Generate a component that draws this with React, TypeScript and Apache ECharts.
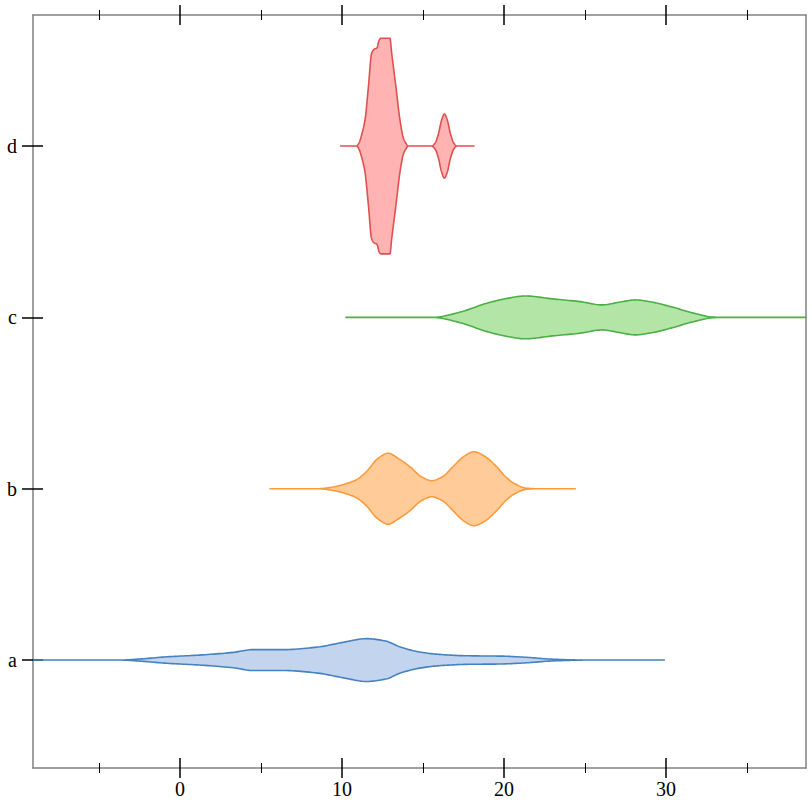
import React, { useEffect, useRef } from 'react';
import * as echarts from 'echarts';

// ---- Data ----
const categories = ['a', 'b', 'c', 'd'];
const majorTicks = [0, 10, 20, 30];
const minorTicks = [-5, 5, 15, 25, 35];
const categoryTicks = [0, 1, 2, 3];

const X_MIN = -9.07;
const X_MAX = 38.64;
const Y_MIN = -0.63;
const Y_MAX = 3.765;

// [value, half-width of the violin in category units]
const violinA: [number, number][] = [
  [-9.07, 0], [-3.7, 0], [-2.5, 0.006], [-0.8, 0.019], [1.2, 0.029], [3.3, 0.045],
  [4.5, 0.061], [6.4, 0.061], [8.5, 0.076], [10.1, 0.104], [11.5, 0.125], [12.7, 0.111],
  [13.6, 0.076], [14.8, 0.047], [16.0, 0.033], [17.7, 0.025], [19.8, 0.023], [21.4, 0.016],
  [22.8, 0.006], [24.3, 0.001], [25.0, 0], [29.9, 0],
];
const violinB: [number, number][] = [
  [5.56, 0], [8.5, 0], [9.45, 0.01], [10.5, 0.037], [10.9, 0.053], [11.5, 0.099],
  [12.2, 0.175], [12.85, 0.207], [13.5, 0.175], [14.2, 0.128], [14.9, 0.07], [15.55, 0.047],
  [16.2, 0.07], [16.85, 0.128], [17.5, 0.187], [18.15, 0.216], [18.85, 0.187], [19.55, 0.128],
  [20.1, 0.07], [20.6, 0.033], [21.4, 0.003], [22.0, 0], [24.4, 0],
];
const violinC: [number, number][] = [
  [10.25, 0], [15.6, 0], [17.3, 0.031], [18.95, 0.083], [20.2, 0.111], [21.3, 0.125],
  [23.0, 0.108], [24.7, 0.092], [26.05, 0.073], [27.2, 0.09], [28.1, 0.102], [29.2, 0.088],
  [30.4, 0.06], [31.7, 0.025], [32.9, 0.002], [33.5, 0], [38.64, 0],
];
const violinD: [number, number][] = [
  [9.92, 0], [10.9, 0], [11.05, 0.018], [11.21, 0.064], [11.42, 0.152], [11.63, 0.344],
  [11.83, 0.541], [12.0, 0.566], [12.15, 0.572], [12.3, 0.619], [12.39, 0.629], [12.96, 0.629],
  [13.07, 0.541], [13.33, 0.346], [13.58, 0.152], [13.79, 0.047], [13.95, 0.016], [14.09, 0],
  [15.53, 0], [15.75, 0.018], [15.95, 0.07], [16.15, 0.152], [16.32, 0.187], [16.5, 0.152],
  [16.7, 0.07], [16.9, 0.018], [17.08, 0], [18.15, 0],
];

const violins = [violinA, violinB, violinC, violinD];
const strokeColors = ['#4682bf', '#fd9a3c', '#4caf46', '#e05050'];
const fillColors = ['#c3d4ee', '#ffcc99', '#b3e6a6', '#ffb3b3'];

const FONT = 'Liberation Serif';

// Monotone cubic (Fritsch–Carlson) rendering of the outline between the read points
function monotoneCurve(rows: [number, number][], steps: number): [number, number][] {
  const n = rows.length;
  const xs = rows.map((r) => r[0]);
  const ys = rows.map((r) => r[1]);
  const h: number[] = [];
  const d: number[] = [];
  for (let i = 0; i < n - 1; i++) {
    h.push(xs[i + 1] - xs[i]);
    d.push((ys[i + 1] - ys[i]) / (xs[i + 1] - xs[i]));
  }
  const m: number[] = new Array(n).fill(0);
  for (let i = 1; i < n - 1; i++) {
    if (d[i - 1] * d[i] > 0) {
      const w1 = 2 * h[i] + h[i - 1];
      const w2 = h[i] + 2 * h[i - 1];
      m[i] = (w1 + w2) / (w1 / d[i - 1] + w2 / d[i]);
    } else {
      m[i] = 0;
    }
  }
  m[0] = 0;
  m[n - 1] = 0;
  const out: [number, number][] = [];
  for (let i = 0; i < n - 1; i++) {
    const x0 = xs[i];
    const hh = h[i];
    for (let s = 0; s < steps; s++) {
      const t = s / steps;
      const t2 = t * t;
      const t3 = t2 * t;
      const h00 = 2 * t3 - 3 * t2 + 1;
      const h10 = t3 - 2 * t2 + t;
      const h01 = -2 * t3 + 3 * t2;
      const h11 = t3 - t2;
      const y = h00 * ys[i] + h10 * hh * m[i] + h01 * ys[i + 1] + h11 * hh * m[i + 1];
      out.push([x0 + t * hh, Math.max(0, y)]);
    }
  }
  out.push([xs[n - 1], ys[n - 1]]);
  return out;
}

export default function App() {
  const ref = useRef<HTMLDivElement>(null);

  useEffect(() => {
    const chart = echarts.init(ref.current as HTMLDivElement, null, { renderer: 'svg' });

    const frameLine = { show: true, onZero: false, lineStyle: { color: '#808080', width: 1.5 } };
    const noLine = { show: false, onZero: false };

    const xAx = (
      position: string,
      ticks: number[],
      len: number,
      inside: boolean,
      width: number,
      line: boolean,
      labels: boolean
    ) => ({
      type: 'value',
      position,
      min: X_MIN,
      max: X_MAX,
      z: 0,
      axisLine: line ? frameLine : noLine,
      axisTick: { show: true, customValues: ticks, length: len, inside, lineStyle: { color: '#000', width } },
      axisLabel: labels
        ? { show: true, customValues: ticks, fontFamily: FONT, fontSize: 20, color: '#000', margin: 11 }
        : { show: false },
      splitLine: { show: false },
    });

    const xAxis = [
      xAx('bottom', majorTicks, 10, false, 1.5, true, true),
      xAx('bottom', majorTicks, 10, true, 1.5, false, false),
      xAx('bottom', minorTicks, 5, false, 1, false, false),
      xAx('bottom', minorTicks, 5, true, 1, false, false),
      xAx('top', majorTicks, 10, false, 1.5, true, false),
      xAx('top', majorTicks, 10, true, 1.5, false, false),
      xAx('top', minorTicks, 5, false, 1, false, false),
      xAx('top', minorTicks, 5, true, 1, false, false),
    ];

    const yAxis = [
      {
        type: 'value',
        position: 'left',
        min: Y_MIN,
        max: Y_MAX,
        z: 0,
        axisLine: frameLine,
        axisTick: { show: true, customValues: categoryTicks, length: 11, inside: false, lineStyle: { color: '#000', width: 1.5 } },
        axisLabel: {
          show: true,
          customValues: categoryTicks,
          formatter: (v: number) => categories[Math.round(v)] ?? '',
          fontFamily: FONT,
          fontSize: 20,
          color: '#000',
          margin: 16,
        },
        splitLine: { show: false },
      },
      {
        type: 'value',
        position: 'left',
        min: Y_MIN,
        max: Y_MAX,
        z: 0,
        axisLine: noLine,
        axisTick: { show: true, customValues: categoryTicks, length: 10, inside: true, lineStyle: { color: '#000', width: 1.5 } },
        axisLabel: { show: false },
        splitLine: { show: false },
      },
      {
        type: 'value',
        position: 'right',
        min: Y_MIN,
        max: Y_MAX,
        z: 0,
        axisLine: frameLine,
        axisTick: { show: false },
        axisLabel: { show: false },
        splitLine: { show: false },
      },
    ];

    const series = violins.map((rows, ci) => ({
      type: 'custom',
      xAxisIndex: 0,
      yAxisIndex: 0,
      silent: true,
      clip: true,
      z: 10,
      data: rows.map((r) => [r[0], ci]),
      renderItem: (params: any, api: any) => {
        if (params.dataIndex !== 0) return null;
        const curve = monotoneCurve(rows, 12);
        const upper = curve.map((p) => api.coord([p[0], ci + p[1]]));
        const lower = curve
          .slice()
          .reverse()
          .map((p) => api.coord([p[0], ci - p[1]]));
        return {
          type: 'polygon',
          shape: { points: upper.concat(lower) },
          style: { fill: fillColors[ci], stroke: strokeColors[ci], lineWidth: 1.6, lineJoin: 'round' },
        };
      },
    }));

    chart.setOption({
      animation: false,
      backgroundColor: '#ffffff',
      grid: { left: 33, right: 6, top: 15, bottom: 44, containLabel: false, outerBoundsMode: 'none' },
      xAxis,
      yAxis,
      series,
    } as any);

    return () => chart.dispose();
  }, []);

  return (
    <div
      ref={ref}
      style={{ position: 'absolute', left: 0, top: 0, width: 812, height: 812 }}
    />
  );
}
